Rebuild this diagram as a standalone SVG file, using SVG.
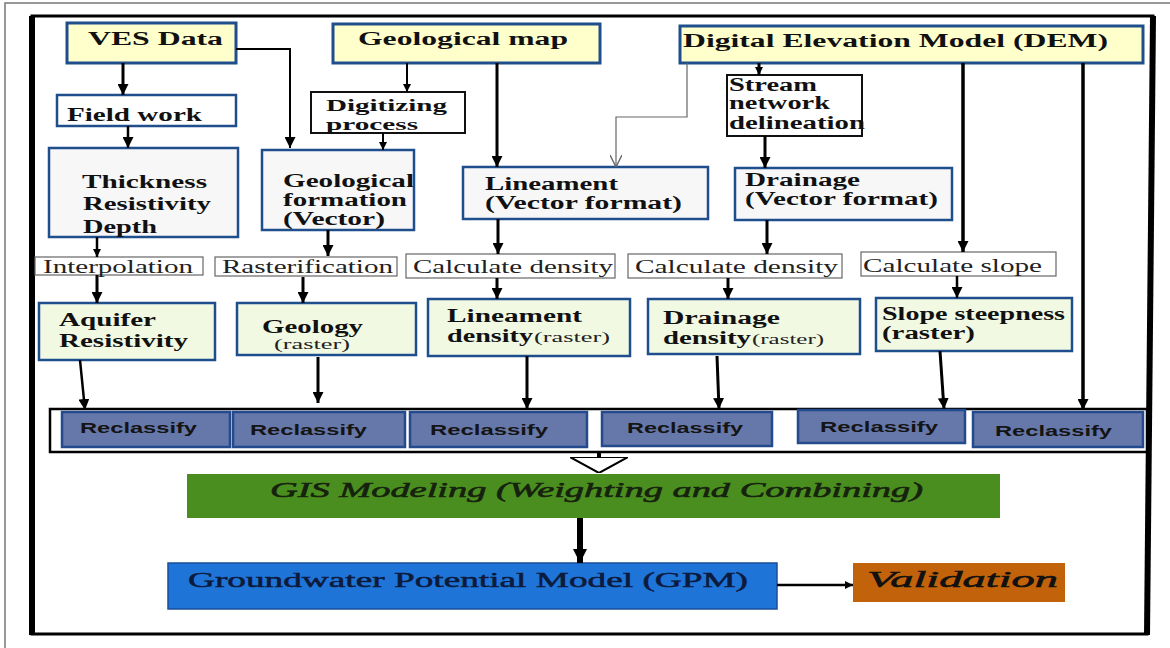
<svg xmlns="http://www.w3.org/2000/svg" width="1170" height="648" viewBox="0 0 1170 648">
<style>
.hdr{fill:#FFFFCC;stroke:#1F4E8C;stroke-width:3}
.wb{fill:#FFFFFF;stroke:#1F4E8C;stroke-width:2.5}
.gb{fill:#F7F7F8;stroke:#1F4E8C;stroke-width:2.5}
.lg{fill:#F1F9E3;stroke:#1F4E8C;stroke-width:2.5}
.kb{fill:#FFFFFF;stroke:#111;stroke-width:2}
.lb{fill:#FFFFFF;stroke:#666;stroke-width:1.2}
.rc{fill:#6677A9;stroke:#234A8C;stroke-width:2.5}
.tb{font-family:"Liberation Serif",serif;font-weight:bold;font-size:18px;fill:#111}
.tn{font-family:"Liberation Serif",serif;font-size:18px;fill:#222}
.ts{font-family:"Liberation Serif",serif;font-size:14px;fill:#222}
.tr{font-family:"Liberation Sans",Arial,sans-serif;font-weight:bold;font-size:15px;fill:#141414}
.ti{font-family:"Liberation Serif",serif;font-style:italic;font-size:22px;fill:#16220e;stroke:#16220e;stroke-width:0.6}
.c{fill:none;stroke:#000;stroke-width:3}
.c2{fill:none;stroke:#000;stroke-width:2}
</style>
<defs>
<marker id="ah" viewBox="0 0 10 10" refX="10" refY="5" markerWidth="11" markerHeight="11" markerUnits="userSpaceOnUse" orient="auto"><path d="M0,0 L10,5 L0,10 z" fill="#000"/></marker>
<marker id="ahs" viewBox="0 0 10 10" refX="10" refY="5" markerWidth="8" markerHeight="8" markerUnits="userSpaceOnUse" orient="auto"><path d="M0,0 L10,5 L0,10 z" fill="#000"/></marker>
<marker id="ahb" viewBox="0 0 10 10" refX="10" refY="5" markerWidth="14" markerHeight="16" markerUnits="userSpaceOnUse" orient="auto"><path d="M0,0 L10,5 L0,10 z" fill="#000"/></marker>
<marker id="ao" viewBox="0 0 10 10" refX="10" refY="5" markerWidth="12" markerHeight="12" markerUnits="userSpaceOnUse" orient="auto"><path d="M0,0 L10,5 L0,10" fill="none" stroke="#666" stroke-width="1.2"/></marker>
<marker id="tri" viewBox="0 0 16 58" refX="16" refY="29" markerWidth="16" markerHeight="58" markerUnits="userSpaceOnUse" orient="auto"><path d="M0,0 L16,29 L0,58 z" fill="#fff" stroke="#000" stroke-width="2"/></marker>
</defs>

<g id="frame">
<path d="M5,648 V3 H1170" fill="none" stroke="#777" stroke-width="1.5"/>
<path d="M32,16 H1153 L1147,634 H32 Z" fill="#fff" stroke="#000" stroke-width="3"/>
<line x1="32" y1="16" x2="32" y2="635" stroke="#000" stroke-width="6"/>
<line x1="1153" y1="16" x2="1147" y2="635" stroke="#000" stroke-width="6"/>
</g>

<g id="n-ves"><rect class="hdr" x="67" y="23" width="169" height="40"/><text class="tb" x="88" y="45" textLength="135" lengthAdjust="spacingAndGlyphs">VES Data</text></g>
<g id="n-geomap"><rect class="hdr" x="333" y="24" width="267" height="39"/><text class="tb" x="358" y="45" textLength="210" lengthAdjust="spacingAndGlyphs">Geological map</text></g>
<g id="n-dem"><rect class="hdr" x="680" y="26" width="463" height="37"/><text class="tb" x="683" y="47" textLength="425" lengthAdjust="spacingAndGlyphs">Digital Elevation Model (DEM)</text></g>

<g id="n-field"><rect class="wb" x="57" y="95" width="179" height="31"/><text class="tb" x="67" y="121" textLength="135" lengthAdjust="spacingAndGlyphs">Field work</text></g>
<g id="n-digit"><rect class="kb" x="311" y="92" width="154" height="41"/><text class="tb" x="326" y="111" textLength="121" lengthAdjust="spacingAndGlyphs" style="font-size:17px">Digitizing</text><text class="tb" x="326" y="130" textLength="92" lengthAdjust="spacingAndGlyphs" style="font-size:17px">process</text></g>
<g id="n-stream"><rect class="kb" x="727" y="75" width="135" height="61"/><text class="tb" x="729" y="91" textLength="88" lengthAdjust="spacingAndGlyphs">Stream</text><text class="tb" x="729" y="109" textLength="101" lengthAdjust="spacingAndGlyphs">network</text><text class="tb" x="729" y="129" textLength="136" lengthAdjust="spacingAndGlyphs">delineation</text></g>

<g id="n-thick"><rect class="gb" x="49" y="148" width="189" height="89"/><text class="tb" x="82" y="188" textLength="125" lengthAdjust="spacingAndGlyphs">Thickness</text><text class="tb" x="83" y="210" textLength="128" lengthAdjust="spacingAndGlyphs">Resistivity</text><text class="tb" x="83" y="233" textLength="74" lengthAdjust="spacingAndGlyphs">Depth</text></g>
<g id="n-geoform"><rect class="gb" x="262" y="150" width="152" height="80"/><text class="tb" x="283" y="187" textLength="131" lengthAdjust="spacingAndGlyphs">Geological</text><text class="tb" x="283" y="206" textLength="124" lengthAdjust="spacingAndGlyphs">formation</text><text class="tb" x="283" y="225" textLength="102" lengthAdjust="spacingAndGlyphs">(Vector)</text></g>
<g id="n-lin"><rect class="gb" x="463" y="167" width="245" height="52"/><text class="tb" x="485" y="190" textLength="133" lengthAdjust="spacingAndGlyphs">Lineament</text><text class="tb" x="485" y="209" textLength="197" lengthAdjust="spacingAndGlyphs">(Vector format)</text></g>
<g id="n-drain"><rect class="gb" x="735" y="168" width="217" height="52"/><text class="tb" x="745" y="186" textLength="115" lengthAdjust="spacingAndGlyphs">Drainage</text><text class="tb" x="745" y="205" textLength="193" lengthAdjust="spacingAndGlyphs">(Vector format)</text></g>

<g id="n-interp"><rect class="lb" x="35" y="257" width="168" height="18"/><text class="tn" x="43" y="273" textLength="150" lengthAdjust="spacingAndGlyphs">Interpolation</text></g>
<g id="n-raster"><rect class="lb" x="215" y="257" width="182" height="19"/><text class="tn" x="222" y="273" textLength="171" lengthAdjust="spacingAndGlyphs">Rasterification</text></g>
<g id="n-calc1"><rect class="lb" x="406" y="254" width="209" height="24"/><text class="tn" x="413" y="273" textLength="200" lengthAdjust="spacingAndGlyphs">Calculate density</text></g>
<g id="n-calc2"><rect class="lb" x="628" y="254" width="214" height="24"/><text class="tn" x="635" y="273" textLength="203" lengthAdjust="spacingAndGlyphs">Calculate density</text></g>
<g id="n-calcs"><rect class="lb" x="861" y="252" width="195" height="24"/><text class="tn" x="863" y="272" textLength="179" lengthAdjust="spacingAndGlyphs">Calculate slope</text></g>

<g id="n-aquifer"><rect class="lg" x="39" y="303" width="176" height="57"/><text class="tb" x="59" y="326" textLength="97" lengthAdjust="spacingAndGlyphs">Aquifer</text><text class="tb" x="59" y="347" textLength="129" lengthAdjust="spacingAndGlyphs">Resistivity</text></g>
<g id="n-geology"><rect class="lg" x="237" y="303" width="179" height="52"/><text class="tb" x="262" y="333" textLength="101" lengthAdjust="spacingAndGlyphs">Geology</text><text class="ts" x="274" y="349" textLength="76" lengthAdjust="spacingAndGlyphs">(raster)</text></g>
<g id="n-lind"><rect class="lg" x="428" y="299" width="202" height="57"/><text class="tb" x="447" y="322" textLength="135" lengthAdjust="spacingAndGlyphs">Lineament</text><text class="tb" x="447" y="342" textLength="86" lengthAdjust="spacingAndGlyphs">density</text><text class="ts" x="534" y="342" textLength="76" lengthAdjust="spacingAndGlyphs">(raster)</text></g>
<g id="n-draind"><rect class="lg" x="648" y="299" width="212" height="55"/><text class="tb" x="663" y="324" textLength="117" lengthAdjust="spacingAndGlyphs">Drainage</text><text class="tb" x="663" y="344" textLength="88" lengthAdjust="spacingAndGlyphs">density</text><text class="ts" x="752" y="344" textLength="72" lengthAdjust="spacingAndGlyphs">(raster)</text></g>
<g id="n-slope"><rect class="lg" x="876" y="298" width="196" height="53"/><text class="tb" x="882" y="320" textLength="183" lengthAdjust="spacingAndGlyphs">Slope steepness</text><text class="tb" x="882" y="339" textLength="93" lengthAdjust="spacingAndGlyphs">(raster)</text></g>

<g id="n-reclass">
<rect x="50" y="409" width="1097" height="43" fill="#fff" stroke="#000" stroke-width="2.5"/>
<rect class="rc" x="62" y="412" width="168" height="35"/><text class="tr" x="80" y="433" textLength="117" lengthAdjust="spacingAndGlyphs">Reclassify</text>
<rect class="rc" x="233" y="412" width="172" height="35"/><text class="tr" x="250" y="435" textLength="117" lengthAdjust="spacingAndGlyphs">Reclassify</text>
<rect class="rc" x="410" y="412" width="177" height="35"/><text class="tr" x="430" y="435" textLength="118" lengthAdjust="spacingAndGlyphs">Reclassify</text>
<rect class="rc" x="602" y="412" width="170" height="34"/><text class="tr" x="627" y="433" textLength="116" lengthAdjust="spacingAndGlyphs">Reclassify</text>
<rect class="rc" x="798" y="410" width="167" height="33"/><text class="tr" x="820" y="432" textLength="118" lengthAdjust="spacingAndGlyphs">Reclassify</text>
<rect class="rc" x="973" y="412" width="170" height="35"/><text class="tr" x="995" y="436" textLength="117" lengthAdjust="spacingAndGlyphs">Reclassify</text>
</g>

<g id="n-gis"><rect x="187" y="474" width="813" height="44" fill="#4A8E20"/><text class="ti" x="270" y="497" textLength="653" lengthAdjust="spacingAndGlyphs">GIS Modeling (Weighting and Combining)</text></g>
<g id="n-gpm"><rect x="168" y="563" width="609" height="46" fill="#1F74D8" stroke="#1A4E9A" stroke-width="1.5"/><text x="188" y="587" textLength="560" lengthAdjust="spacingAndGlyphs" style="font-family:'Liberation Serif',serif;font-size:22px;fill:#0C1A3C;stroke:#0C1A3C;stroke-width:0.5">Groundwater Potential Model (GPM)</text></g>
<g id="n-valid"><rect x="853" y="563" width="212" height="39" fill="#C2620B"/><text class="ti" x="867" y="587" textLength="191" lengthAdjust="spacingAndGlyphs" style="font-size:24px;fill:#111;stroke:#111">Validation</text></g>

<g id="connectors">
<path class="c" d="M123,63 V95" marker-end="url(#ah)"/>
<path class="c" d="M128,126 V148" marker-end="url(#ah)" style="stroke-width:2.5"/>
<path class="c2" d="M236,49 H290 V148" marker-end="url(#ah)"/>
<path class="c2" d="M407,63 V92" marker-end="url(#ahs)"/>
<path class="c2" d="M383,133 V150" marker-end="url(#ahs)"/>
<path class="c" d="M497,63 V167" marker-end="url(#ah)"/>
<path d="M687,63 V117 H616 V167" fill="none" stroke="#666" stroke-width="1.2" marker-end="url(#ao)"/>
<path class="c" d="M759,63 V75" marker-end="url(#ahs)"/>
<path class="c" d="M765,136 V168" marker-end="url(#ah)"/>
<path class="c" d="M963,63 V252" marker-end="url(#ah)" style="stroke-width:3.5"/>
<path class="c" d="M1083,63 V410" marker-end="url(#ah)" style="stroke-width:3.5"/>
<path class="c" d="M97,237 V257" marker-end="url(#ahs)" style="stroke-width:2.5"/>
<path class="c" d="M97,275 V303" marker-end="url(#ah)"/>
<path class="c" d="M328,230 V256" marker-end="url(#ah)"/>
<path class="c" d="M303,277 V303" marker-end="url(#ah)"/>
<path class="c" d="M498,219 V254" marker-end="url(#ah)"/>
<path class="c" d="M497,278 V299" marker-end="url(#ah)"/>
<path class="c" d="M767,220 V254" marker-end="url(#ah)"/>
<path class="c" d="M728,278 V299" marker-end="url(#ah)"/>
<path class="c" d="M957,276 V298" marker-end="url(#ah)" style="stroke-width:2.5"/>
<path class="c" d="M80,360 L85,410" marker-end="url(#ah)" style="stroke-width:2.5"/>
<path class="c" d="M318,357 V403" marker-end="url(#ah)"/>
<path class="c" d="M527,356 V409" marker-end="url(#ah)"/>
<path class="c" d="M717,356 L719,409" marker-end="url(#ah)"/>
<path class="c" d="M940,351 L944,409" marker-end="url(#ah)"/>
<path d="M599,452 V473" fill="none" stroke="#000" stroke-width="4" marker-end="url(#tri)"/>
<path d="M580,518 V563" fill="none" stroke="#000" stroke-width="6" marker-end="url(#ahb)"/>
<path class="c" d="M777,585 H853" marker-end="url(#ahs)" style="stroke-width:2.5"/>
</g>
</svg>
